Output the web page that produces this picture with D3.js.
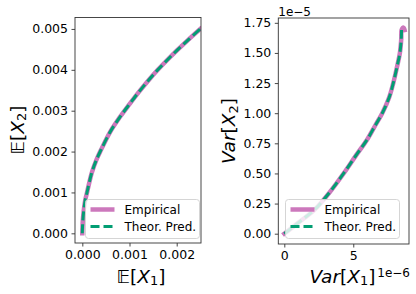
<!DOCTYPE html>
<html><head><meta charset="utf-8">
<script src="https://cdn.jsdelivr.net/npm/d3@7"></script>
<style>body{margin:0;background:#fff}svg{display:block}text{font-family:"DejaVu Sans",sans-serif;fill:#000}</style>
</head><body>
<svg id="c" width="416" height="294"></svg>
<script>
// Left panel: E[X1] vs E[X2]
const meanX1 = [0, 0.00001, 0.00003, 0.00006, 0.0001, 0.0002, 0.0003, 0.0004, 0.0006, 0.0008, 0.001, 0.0012, 0.0014, 0.0016, 0.0018, 0.002, 0.00225, 0.0025];
const meanX2 = [0, 0.0003, 0.00055, 0.0008, 0.001, 0.00148, 0.0018, 0.00205, 0.0025, 0.00285, 0.00316, 0.00346, 0.00374, 0.004, 0.00424, 0.00447, 0.00474, 0.005];
const meanTheorX1 = meanX1;
const meanTheorX2 = meanX2;
// Right panel: Var[X1] vs Var[X2]
const varX1 = [0, 1.0e-6, 2.2e-6, 3.4e-6, 4.3e-6, 5.2e-6, 6.0e-6, 6.6e-6, 7.1e-6, 7.6e-6, 7.9e-6, 8.2e-6, 8.38e-6, 8.48e-6, 8.5e-6, 8.65e-6, 8.72e-6];
const varX2 = [0, 0.09e-5, 0.2e-5, 0.36e-5, 0.5e-5, 0.65e-5, 0.78e-5, 0.9e-5, 1.0e-5, 1.13e-5, 1.25e-5, 1.4e-5, 1.5e-5, 1.62e-5, 1.69e-5, 1.71e-5, 1.69e-5];
const varTheorX1 = [0, 1.0e-6, 2.2e-6, 3.4e-6, 4.3e-6, 5.2e-6, 6.0e-6, 6.6e-6, 7.1e-6, 7.6e-6, 7.9e-6, 8.2e-6, 8.38e-6, 8.48e-6, 8.5e-6];
const varTheorX2 = [0, 0.09e-5, 0.2e-5, 0.36e-5, 0.5e-5, 0.65e-5, 0.78e-5, 0.9e-5, 1.0e-5, 1.13e-5, 1.25e-5, 1.4e-5, 1.5e-5, 1.62e-5, 1.69e-5];
const leftXTicks = [0, 0.001, 0.002];
const leftXTickLabels = ["0.000", "0.001", "0.002"];
const leftYTicks = [0, 0.001, 0.002, 0.003, 0.004, 0.005];
const leftYTickLabels = ["0.000", "0.001", "0.002", "0.003", "0.004", "0.005"];
const rightXTicks = [0, 5e-6];
const rightXTickLabels = ["0", "5"];
const rightYTicks = [0, 0.25e-5, 0.5e-5, 0.75e-5, 1.0e-5, 1.25e-5, 1.5e-5, 1.75e-5];
const rightYTickLabels = ["0.00", "0.25", "0.50", "0.75", "1.00", "1.25", "1.50", "1.75"];
const legendLabels = ["Empirical", "Theor. Pred."];

const PINK = "#cc78bc", GREEN = "#029e73";
const TICK_FS = 12.5, LEG_FS = 12, LAB_FS = 18.5, OFF_FS = 12;
const svg = d3.select("#c");

function panel(o) {
  const x = d3.scaleLinear().domain(o.xd).range([o.l, o.r]);
  const y = d3.scaleLinear().domain(o.yd).range([o.b, o.t]);
  const g = svg.append("g");
  const cid = "clip" + o.id;
  g.append("clipPath").attr("id", cid).append("rect")
    .attr("x", o.l).attr("y", o.t).attr("width", o.r - o.l).attr("height", o.b - o.t);
  const line = d3.line().x(d => x(d[0])).y(d => y(d[1])).curve(d3.curveCatmullRom.alpha(0.5));
  const emp = o.ex.map((v, i) => [v, o.ey[i]]);
  const th = o.tx.map((v, i) => [v, o.ty[i]]);
  const lg = g.append("g").attr("clip-path", `url(#${cid})`);
  lg.append("path").attr("d", line(emp)).attr("fill", "none").attr("stroke", PINK)
    .attr("stroke-width", 4.5).attr("stroke-linecap", "square").attr("stroke-linejoin", "round");
  lg.append("path").attr("d", line(th)).attr("fill", "none").attr("stroke", GREEN)
    .attr("stroke-width", 3).attr("stroke-dasharray", "9,4");
  // axes
  const ax = d3.axisBottom(x).tickValues(o.xt).tickFormat((d, i) => o.xtl[i]).tickSize(3.5).tickPadding(3.5);
  const ay = d3.axisLeft(y).tickValues(o.yt).tickFormat((d, i) => o.ytl[i]).tickSize(3.5).tickPadding(3.5);
  const gx = g.append("g").attr("transform", `translate(0,${o.b})`).call(ax);
  const gy = g.append("g").attr("transform", `translate(${o.l},0)`).call(ay);
  [gx, gy].forEach(a => {
    a.select(".domain").remove();
    a.selectAll("line").attr("stroke", "#333").attr("stroke-width", 0.9);
    a.selectAll("text").attr("font-size", TICK_FS).attr("font-family", "DejaVu Sans").attr("fill", "#000");
  });
  g.append("rect").attr("x", o.l).attr("y", o.t).attr("width", o.r - o.l).attr("height", o.b - o.t)
    .attr("fill", "none").attr("stroke", "#333").attr("stroke-width", 0.9);
  // legend
  const L = g.append("g");
  L.append("rect").attr("x", o.lgx).attr("y", o.lgy).attr("width", 114).attr("height", 39).attr("rx", 3)
    .attr("fill", "#fff").attr("fill-opacity", 0.8).attr("stroke", "#d0d0d0").attr("stroke-width", 0.9);
  const rows = [o.lgy + 10, o.lgy + 27];
  L.append("line").attr("x1", o.lgx + 5).attr("x2", o.lgx + 29).attr("y1", rows[0]).attr("y2", rows[0])
    .attr("stroke", PINK).attr("stroke-width", 4.5);
  L.append("line").attr("x1", o.lgx + 5).attr("x2", o.lgx + 29).attr("y1", rows[1]).attr("y2", rows[1])
    .attr("stroke", GREEN).attr("stroke-width", 3).attr("stroke-dasharray", "9,4");
  legendLabels.forEach((t, i) => {
    L.append("text").attr("x", o.lgx + 39).attr("y", rows[i]).attr("dy", "0.36em")
      .attr("font-size", LEG_FS).text(t);
  });
  return {x, y, g};
}

panel({id: "L", l: 75, r: 201, t: 17.5, b: 243,
  xd: [-0.000155, 0.002515], yd: [-0.000237, 0.00528],
  ex: meanX1, ey: meanX2, tx: meanTheorX1, ty: meanTheorX2,
  xt: leftXTicks, xtl: leftXTickLabels, yt: leftYTicks, ytl: leftYTickLabels,
  lgx: 85.5, lgy: 199.5});

panel({id: "R", l: 278.3, r: 409, t: 18, b: 244,
  xd: [-0.435e-6, 9.04e-6], yd: [-0.0855e-5, 1.79e-5],
  ex: varX1, ey: varX2, tx: varTheorX1, ty: varTheorX2,
  xt: rightXTicks, xtl: rightXTickLabels, yt: rightYTicks, ytl: rightYTickLabels,
  lgx: 285.5, lgy: 199.5});

// axis labels
function mathLabel(parent, parts) {
  parts.forEach(p => {
    const ts = parent.append("tspan").text(p.t);
    if (p.it) ts.attr("font-style", "italic");
    if (p.sub) ts.attr("font-size", LAB_FS * 0.7).attr("dy", "0.22em");
    if (p.unsub) ts.attr("dy", "-0.154em");
  });
}
const EX1 = svg.append("text").attr("x", 141).attr("y", 282.5).attr("text-anchor", "middle").attr("font-size", LAB_FS);
mathLabel(EX1, [{t: "𝔼["}, {t: "X", it: 1}, {t: "1", sub: 1}, {t: "]", unsub: 1}]);
const EX2 = svg.append("text").attr("transform", "translate(23.5,130) rotate(-90)").attr("text-anchor", "middle").attr("font-size", LAB_FS);
mathLabel(EX2, [{t: "𝔼["}, {t: "X", it: 1}, {t: "2", sub: 1}, {t: "]", unsub: 1}]);
const VX1 = svg.append("text").attr("x", 342.5).attr("y", 282.5).attr("text-anchor", "middle").attr("font-size", LAB_FS);
mathLabel(VX1, [{t: "Var", it: 1}, {t: "["}, {t: "X", it: 1}, {t: "1", sub: 1}, {t: "]", unsub: 1}]);
const VX2 = svg.append("text").attr("transform", "translate(235,131) rotate(-90)").attr("text-anchor", "middle").attr("font-size", LAB_FS);
mathLabel(VX2, [{t: "Var", it: 1}, {t: "["}, {t: "X", it: 1}, {t: "2", sub: 1}, {t: "]", unsub: 1}]);
// offset texts
svg.append("text").attr("x", 278.3).attr("y", 15.5).attr("font-size", OFF_FS).text("1e−5");
svg.append("text").attr("x", 410).attr("y", 276.5).attr("text-anchor", "end").attr("font-size", OFF_FS).text("1e−6");
</script>
</body></html>
